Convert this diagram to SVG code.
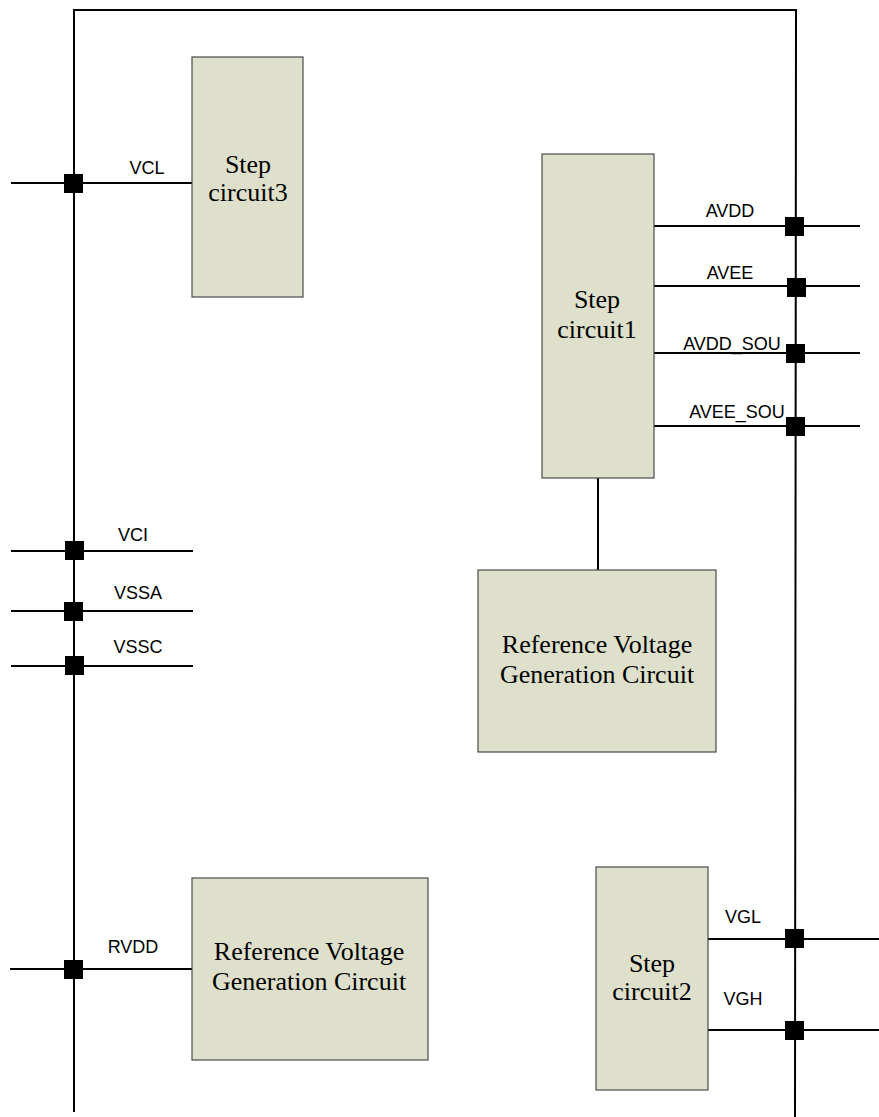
<svg xmlns="http://www.w3.org/2000/svg" width="879" height="1117" viewBox="0 0 879 1117">
<style>
.box{fill:#dee0cb;stroke:#4a4a4a;stroke-width:1.2}
.w{stroke:#000;stroke-width:2;fill:none}
.j{fill:#000}
.lbl{font-family:"Liberation Sans",Arial,sans-serif;font-size:18px;fill:#000;text-anchor:middle}
.t{font-family:"Liberation Serif","Times New Roman",serif;font-size:26px;fill:#000;text-anchor:middle}
</style>
<rect width="879" height="1117" fill="#fff"/>
<g id="connectors">
<path class="w" d="M74,1112 L74,10 L796,10 L795,1117"/>
<line class="w" x1="11" y1="183" x2="192" y2="183"/>
<line class="w" x1="11" y1="551" x2="193" y2="551"/>
<line class="w" x1="11" y1="611" x2="193" y2="611"/>
<line class="w" x1="11" y1="666" x2="193" y2="666"/>
<line class="w" x1="10" y1="969" x2="192" y2="969"/>
<line class="w" x1="654" y1="226" x2="860" y2="226"/>
<line class="w" x1="654" y1="286" x2="860" y2="286"/>
<line class="w" x1="654" y1="353" x2="860" y2="353"/>
<line class="w" x1="654" y1="426" x2="860" y2="426"/>
<line class="w" x1="598" y1="478" x2="598" y2="570"/>
<line class="w" x1="708" y1="939" x2="879" y2="939"/>
<line class="w" x1="708" y1="1030" x2="879" y2="1030"/>
<rect class="j" x="64" y="174" width="19" height="19"/>
<rect class="j" x="65" y="541" width="19" height="19"/>
<rect class="j" x="64" y="602" width="19" height="19"/>
<rect class="j" x="65" y="656" width="19" height="19"/>
<rect class="j" x="64" y="960" width="19" height="19"/>
<rect class="j" x="785" y="217" width="19" height="19"/>
<rect class="j" x="787" y="278" width="19" height="19"/>
<rect class="j" x="786" y="344" width="19" height="19"/>
<rect class="j" x="786" y="417" width="19" height="19"/>
<rect class="j" x="785" y="929" width="19" height="19"/>
<rect class="j" x="785" y="1021" width="19" height="19"/>
<text class="lbl" x="147" y="174">VCL</text>
<text class="lbl" x="133" y="541">VCI</text>
<text class="lbl" x="138" y="599">VSSA</text>
<text class="lbl" x="138" y="653">VSSC</text>
<text class="lbl" x="133" y="953">RVDD</text>
<text class="lbl" x="730" y="217">AVDD</text>
<text class="lbl" x="730" y="279">AVEE</text>
<text class="lbl" x="732" y="350">AVDD_SOU</text>
<text class="lbl" x="737" y="418">AVEE_SOU</text>
<text class="lbl" x="743" y="923">VGL</text>
<text class="lbl" x="743" y="1005">VGH</text>
</g>
<g id="step3">
<rect class="box" x="192" y="57" width="111" height="240"/>
<text class="t" x="248" y="173">Step</text>
<text class="t" x="248" y="201">circuit3</text>
</g>
<g id="step1">
<rect class="box" x="542" y="154" width="112" height="324"/>
<text class="t" x="597" y="308">Step</text>
<text class="t" x="597" y="338">circuit1</text>
</g>
<g id="ref1">
<rect class="box" x="478" y="570" width="238" height="182"/>
<text class="t" x="597" y="653">Reference Voltage</text>
<text class="t" x="597" y="683">Generation Circuit</text>
</g>
<g id="ref2">
<rect class="box" x="192" y="878" width="236" height="182"/>
<text class="t" x="309" y="960">Reference Voltage</text>
<text class="t" x="309" y="990">Generation Circuit</text>
</g>
<g id="step2">
<rect class="box" x="596" y="867" width="112" height="223"/>
<text class="t" x="652" y="972">Step</text>
<text class="t" x="652" y="1000">circuit2</text>
</g>
</svg>
